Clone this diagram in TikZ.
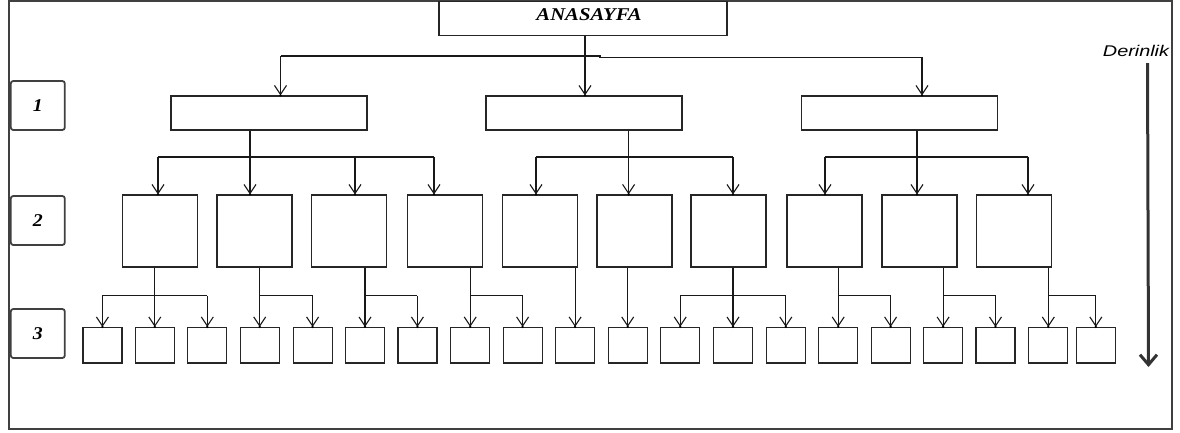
\documentclass[tikz,border=0pt]{standalone}
\usepackage{graphicx}
\usepackage{fontspec}
\setmainfont{Liberation Serif}
\newfontfamily\sansfont{Liberation Sans}
\usetikzlibrary{arrows.meta}
\begin{document}
\begin{tikzpicture}[x=1pt,y=-1pt,
  box/.style={draw=black!85, line width=1.2pt, rectangle, inner sep=0pt},
  homebox/.style={box, minimum width=288pt, minimum height=34pt},
  tbox/.style={box, minimum width=196pt, minimum height=34pt},
  mbox/.style={box, minimum width=75pt, minimum height=72pt},
  sbox/.style={box, minimum width=39pt, minimum height=35.5pt},
  lvl/.style={draw=black!75, line width=1.8pt, rounded corners=2.5pt,
    minimum width=54pt, minimum height=49pt, inner sep=0pt,
    font=\fontsize{18}{18}\selectfont\bfseries\itshape},
  link/.style={draw=black!90, line width=1.1pt},
  arr/.style={link, -{Straight Barb[length=9pt,width=12pt]}},
  tipdot/.style={circle, fill=black, inner sep=0pt, minimum size=2.6pt},
  deep/.style={draw=black!80, line width=3pt, -{Straight Barb[length=10pt,width=17pt]}},
  frame/.style={draw=black!75, line width=1.5pt}
]
\useasboundingbox (0,0) rectangle (1180,432);
\draw[frame] (9,1) rectangle (1172,429);

% root
\node[homebox] (home) at (583,18.7) {};
\node[anchor=base, inner sep=0pt] (hometext) at (589,20.7)
  {\scalebox{1.15}[1]{\fontsize{18}{18}\selectfont\bfseries\itshape ANASAYFA}};

% level markers
\node[lvl] (n1) at (37.8,105.5) {\scalebox{1.1}[1]{1}};
\node[lvl] (n2) at (37.8,220.5) {\scalebox{1.1}[1]{2}};
\node[lvl] (n3) at (37.8,333.5) {\scalebox{1.1}[1]{3}};

% level 1
\node[tbox] (l1a) at (269,113) {};
\node[tbox] (l1b) at (584,113) {};
\node[tbox] (l1c) at (899.75,113) {};

% level 2
\foreach \x [count=\i] in {160,254.5,349.25,445.3,539.75,634.5,728.5,824.5,919.5,1013.75}
  \node[mbox] (b\i) at (\x,231) {};

% level 3
\foreach \x [count=\i] in {102.4,154.8,207.3,259.7,312.6,365,417.4,470.2,522.6,575.1,
                           627.7,680.2,733,785.8,838.2,890.6,943.1,995.5,1048.3,1095.8}
  \node[sbox] (c\i) at (\x,345.25) {};

% root -> level 1
\coordinate (t1) at (280.5,56);
\coordinate (t2) at (585,56);
\coordinate (tj) at (600,56);
\coordinate (t3) at (922,57.3);
\draw[link] (t1) -- (tj) -- (tj |- t3) -- (t3);
\draw[arr] (home.south -| t2) -- (t2 |- l1b.north) node[tipdot] {};
\draw[arr] (t1) -- (t1 |- l1a.north) node[tipdot] {};
\draw[arr] (t3) -- (t3 |- l1c.north) node[tipdot] {};

% level 1 -> level 2
\foreach \x [count=\i] in {158,250,355,434,536,628.6,733,825,917,1028}
  \coordinate (m\i) at (\x,157);
\draw[link] (m1) -- (m4);
\draw[link] (m5) -- (m7);
\draw[link] (m8) -- (m10);
\draw[arr] (l1a.south -| m2) -- (m2 |- b2.north) node[tipdot] {};
\draw[arr] (l1b.south -| m6) -- (m6 |- b6.north) node[tipdot] {};
\draw[arr] (l1c.south -| m9) -- (m9 |- b9.north) node[tipdot] {};
\foreach \i in {1,3,4,5,7,8,10}
  \draw[arr] (m\i) -- (m\i |- b\i.north) node[tipdot] {};

% level 2 -> level 3
\coordinate (busC) at (0,295.5);
% three children, trunk on the middle one
\foreach \p/\a/\m/\b in {1/1/2/3,7/12/13/14} {
  \draw[link] (c\a |- busC) -- (c\b |- busC);
  \draw[arr] (b\p.south -| c\m) -- (c\m.north) node[tipdot] {};
  \draw[arr] (c\a |- busC) -- (c\a.north) node[tipdot] {};
  \draw[arr] (c\b |- busC) -- (c\b.north) node[tipdot] {};
}
% two children, trunk on the first one
\foreach \p/\a/\b in {2/4/5,3/6/7,4/8/9,8/15/16,9/17/18,10/19/20} {
  \draw[link] (c\a |- busC) -- (c\b |- busC);
  \draw[arr] (b\p.south -| c\a) -- (c\a.north) node[tipdot] {};
  \draw[arr] (c\b |- busC) -- (c\b.north) node[tipdot] {};
}
% single child
\foreach \p/\a in {5/10,6/11}
  \draw[arr] (b\p.south -| c\a) -- (c\a.north) node[tipdot] {};

% depth indicator
\node[anchor=base, inner sep=0pt] (depth) at (1136,56)
  {\scalebox{1.28}[1]{\sansfont\itshape\fontsize{15.5}{15.5}\selectfont Derinlik}};
\coordinate (dtop) at (1147.5,63);
\coordinate (dbot) at (1148.5,367);
\draw[deep] (dtop) -- (dbot);
\end{tikzpicture}
\end{document}
